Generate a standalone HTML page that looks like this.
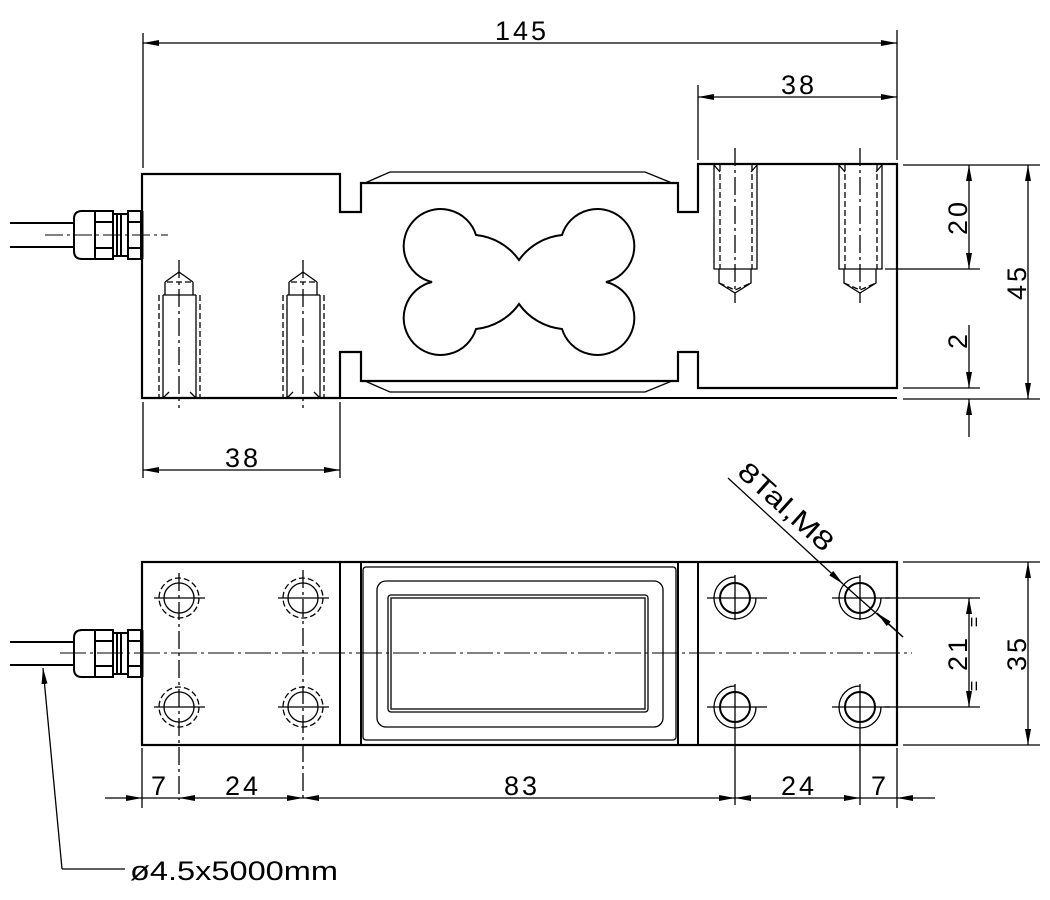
<!DOCTYPE html>
<html><head><meta charset="utf-8"><style>html,body{margin:0;padding:0;background:#fff}svg{display:block}</style></head><body>
<svg width="1050" height="900" viewBox="0 0 1050 900" xmlns="http://www.w3.org/2000/svg" font-family="Liberation Sans, sans-serif">
<defs>
<marker id="a" viewBox="0 0 16 6" refX="16" refY="3" markerWidth="16" markerHeight="6" markerUnits="userSpaceOnUse" orient="auto-start-reverse"><path d="M0,0 L16,3 L0,6 Z" fill="#000"/></marker>
</defs>
<g fill="none" stroke="#000">
<path stroke-width="2.2" d="M142,174 H340 V212 H361 V183 H678 V212 H698 V164 H897 V388 H698 V352 H678 V381 H361 V352 H340 V398 H142 Z"/>
<path stroke-width="2" d="M340,398 H897"/>
<path stroke-width="1.3" d="M365,183 L390,172 H645 L672,183 M365,381 L390,392 H645 L672,381"/>
<path stroke-width="2" d="M432,282 A37,37 0 1 1 476,235 A60,60 0 0 1 519,260 A60,60 0 0 1 562,235 A37,37 0 1 1 606,282 A37,37 0 1 1 562,329 A60,60 0 0 1 519,304 A60,60 0 0 1 476,329 A37,37 0 1 1 432,282 Z"/>
<path stroke-width="2" d="M10,223 H74 M10,247 H74"/>
<path stroke-width="2" d="M95,211 H82 Q74,211 74,219 V251 Q74,259 82,259 H95 Z M95,211 H113 V259 H95 M95,222 H113 M95,248 H113 M113,214 H128 V256 H113 M117,214 V256 M121,214 V256 M128,211 H141 V259 H128 Z M128,222 H141 M128,248 H141"/>
<path stroke-width="3" d="M142,211 V259"/>
<path stroke-width="1" stroke-dasharray="18,4,3,4" d="M45,235 H168"/>
<g stroke-width="1.3">
<path d="M163,295 V398 M196,295 V398 M163,295 H196 M165,282 L179,272 L193,282 M165,282 V295 M193,282 V295 M163,398 L169,392 M196,398 L190,392"/>
<path stroke-dasharray="6,3" d="M159,295 V398 M200,295 V398 M167,282 H191"/>
<path d="M287,295 V398 M320,295 V398 M287,295 H320 M289,282 L303,272 L317,282 M289,282 V295 M317,282 V295 M287,398 L293,392 M320,398 L314,392"/>
<path stroke-dasharray="6,3" d="M283,295 V398 M324,295 V398 M291,282 H315"/>
<path stroke-dasharray="18,4,3,4" d="M179,260 V408 M303,260 V408"/>
</g>
<g stroke-width="1.3">
<path d="M714,165 V269 H757 V165 M719,269 V283 L735,293 L751,283 V269 M714,165 L720,172 M757,165 L751,172"/>
<path stroke-dasharray="6,3" d="M720,165 V269 M752,165 V269 M719,283 L735,290 L751,283"/>
<path d="M839,165 V269 H882 V165 M844,269 V283 L860,293 L876,283 V269 M839,165 L845,172 M882,165 L876,172"/>
<path stroke-dasharray="6,3" d="M845,165 V269 M877,165 V269 M844,283 L860,290 L876,283"/>
<path stroke-dasharray="18,4,3,4" d="M735,148 V303 M860,148 V303"/>
</g>
<g stroke-width="1.3">
<path d="M143,33 V168 M897,30 V160 M698,85 V160"/>
<path d="M143,43 H897" marker-start="url(#a)" marker-end="url(#a)"/>
<path d="M698,97 H897" marker-start="url(#a)" marker-end="url(#a)"/>
<path d="M143,402 V478 M340,402 V478"/>
<path d="M143,470 H340" marker-start="url(#a)" marker-end="url(#a)"/>
<path d="M903,165 H1040 M885,269 H980 M903,388 H980 M903,399 H1040"/>
<path d="M969,165 V269" marker-start="url(#a)" marker-end="url(#a)"/>
<path d="M1028,165 V399" marker-start="url(#a)" marker-end="url(#a)"/>
<path d="M969,325 V388" marker-end="url(#a)"/>
<path d="M969,437 V399" marker-end="url(#a)"/>
</g>
<rect x="142" y="562" width="755" height="183" stroke-width="2.2"/>
<path stroke-width="2" d="M340,562 V745 M361,562 V745 M678,562 V745 M698,562 V745"/>
<rect x="363" y="567" width="313" height="173" rx="3" stroke-width="1.3"/>
<rect x="377" y="581" width="286" height="146" rx="9" stroke-width="1.3"/>
<rect x="388" y="595" width="260" height="117" rx="3" stroke-width="1.3"/>
<rect x="391" y="598" width="254" height="111" stroke-width="1.3"/>
<path stroke-width="2" d="M10,642 H74 M10,665 H74"/>
<path stroke-width="2" d="M95,630 H82 Q74,630 74,638 V669 Q74,677 82,677 H95 Z M95,630 H113 V677 H95 M95,641 H113 M95,666 H113 M113,633 H128 V674 H113 M117,633 V674 M121,633 V674 M128,630 H141 V677 H128 Z M128,641 H141 M128,666 H141"/>
<path stroke-width="3" d="M142,630 V677"/>
<path stroke-width="1" stroke-dasharray="26,4,3,4" d="M60,653 H912"/>
<g stroke-width="1.3">
<circle cx="179" cy="598" r="15"/><circle cx="303" cy="598" r="15"/><circle cx="179" cy="707" r="15"/><circle cx="303" cy="707" r="15"/>
<g stroke-dasharray="6,3"><circle cx="179" cy="598" r="20"/><circle cx="303" cy="598" r="20"/><circle cx="179" cy="707" r="20"/><circle cx="303" cy="707" r="20"/></g>
<path d="M154,598 H205 M278,598 H329 M154,707 H205 M278,707 H329"/>
<path stroke-dasharray="18,4,3,4" d="M179,573 V800 M303,570 V800"/>
</g>
<g stroke-width="1.3">
<circle cx="735" cy="598" r="15" stroke-width="2"/><circle cx="860" cy="598" r="15" stroke-width="2"/><circle cx="735" cy="707" r="15" stroke-width="2"/><circle cx="860" cy="707" r="15" stroke-width="2"/>
<path d="M735,577 A21,21 0 1 0 756,598 M860,577 A21,21 0 1 0 881,598 M735,686 A21,21 0 1 0 756,707 M860,686 A21,21 0 1 0 881,707"/>
<path d="M707,598 H767 M832,598 H890 M707,707 H767 M832,707 H890 M735,575 V620 M860,575 V620 M735,684 V805 M860,684 V805"/>
</g>
<g stroke-width="1.3">
<path d="M142,748 V808 M897,748 V808"/>
<path d="M105,798 H142" marker-end="url(#a)"/>
<path d="M179,798 H303" marker-start="url(#a)" marker-end="url(#a)"/>
<path d="M303,798 H735" marker-start="url(#a)" marker-end="url(#a)"/>
<path d="M735,798 H860" marker-start="url(#a)" marker-end="url(#a)"/>
<path d="M935,798 H897" marker-end="url(#a)"/>
<path d="M142,798 H179 M860,798 H897"/>
<path d="M885,598 H980 M885,707 H980 M903,562 H1040 M903,745 H1040"/>
<path d="M969,598 V707" marker-start="url(#a)" marker-end="url(#a)"/>
<path d="M1028,562 V745" marker-start="url(#a)" marker-end="url(#a)"/>
<path d="M728,478 L843,584" marker-end="url(#a)"/>
<path d="M843,584 L903,637"/>
<path d="M903,637 L877,613" marker-end="url(#a)"/>
<path d="M62,869 L43,668" marker-end="url(#a)"/>
<path d="M62,869 H125"/>
</g>
</g>
<g font-size="27" fill="#000" letter-spacing="3">
<text x="522" y="40" text-anchor="middle">145</text>
<text x="799" y="94" text-anchor="middle">38</text>
<text x="243" y="467" text-anchor="middle">38</text>
<text transform="translate(967,217) rotate(-90)" text-anchor="middle">20</text>
<text transform="translate(1026,282) rotate(-90)" text-anchor="middle">45</text>
<text transform="translate(967,340) rotate(-90)" text-anchor="middle">2</text>
<text transform="translate(967,653) rotate(-90)" text-anchor="middle">21</text>
<text transform="translate(1026,653) rotate(-90)" text-anchor="middle">35</text>
<text transform="translate(980,622) rotate(-90)" font-size="18" letter-spacing="0" text-anchor="middle">=</text>
<text transform="translate(980,686) rotate(-90)" font-size="18" letter-spacing="0" text-anchor="middle">=</text>
<text x="160" y="795" text-anchor="middle">7</text>
<text x="243" y="795" text-anchor="middle">24</text>
<text x="522" y="795" text-anchor="middle">83</text>
<text x="799" y="795" text-anchor="middle">24</text>
<text x="880" y="795" text-anchor="middle">7</text>
<text x="130" y="880" letter-spacing="0" textLength="208" lengthAdjust="spacingAndGlyphs">ø4.5x5000mm</text>
<text transform="translate(736,474) rotate(42)" letter-spacing="0" textLength="118" lengthAdjust="spacingAndGlyphs">8Tal,M8</text>
</g>
</svg>
</body></html>
